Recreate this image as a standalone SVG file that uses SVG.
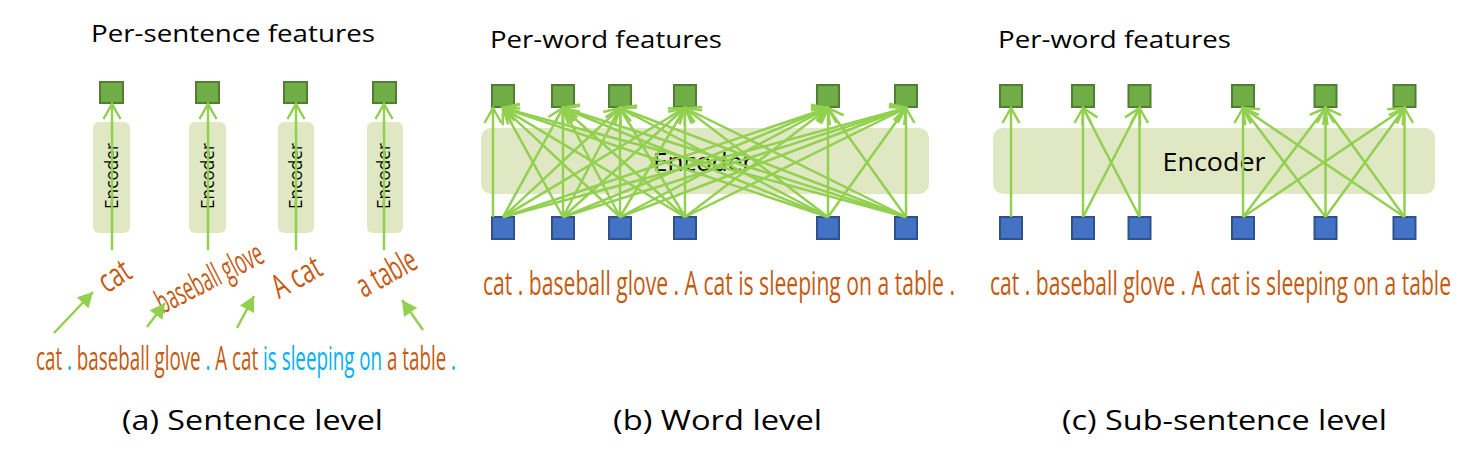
<svg xmlns="http://www.w3.org/2000/svg" width="1470" height="450" viewBox="0 0 1470 450">
<style>
.title{font-family:"Open Sans","Noto Sans",sans-serif;font-size:24px;fill:#000}
.cap{font-family:"Open Sans","Noto Sans",sans-serif;font-size:28px;fill:#000}
.enc{font-family:"Open Sans","Noto Sans",sans-serif;font-size:25px;fill:#000}
.encv{font-family:"Open Sans","Noto Sans",sans-serif;font-size:18px;fill:#000}
.word{font-family:"Liberation Sans Narrow","Open Sans","Noto Sans",sans-serif;font-size:33px;fill:#c55a11}
.sep{fill:#00b0f0}
.box{fill:#e0e7c3}
.g{fill:#70ad47;stroke:#507e32;stroke-width:2}
.b{fill:#4472c4;stroke:#2f528f;stroke-width:2}
.ln{stroke:#92d050;stroke-width:2.5;fill:none;marker-end:url(#chev)}
.la{stroke:#92d050;stroke-width:2.5;fill:none;marker-end:url(#tri)}
</style>
<defs>
<marker id="chev" markerUnits="userSpaceOnUse" markerWidth="40" markerHeight="40" viewBox="-20 -20 40 40" refX="0" refY="0" orient="auto" overflow="visible">
<path d="M-15,-8.5 L0,0 L-15,8.5" fill="none" stroke="#92d050" stroke-width="2.5"/>
</marker>
<marker id="tri" markerUnits="userSpaceOnUse" markerWidth="40" markerHeight="40" viewBox="-20 -20 40 40" refX="0" refY="0" orient="auto" overflow="visible">
<path d="M-15,-8 L0,0 L-15,8 Z" fill="#92d050"/>
</marker>
</defs>
<rect width="1470" height="450" fill="#ffffff"/>

<!-- Panel (a) -->
<g id="panel-a">
<text class="title" x="91" y="42" textLength="284" lengthAdjust="spacingAndGlyphs">Per-sentence features</text>
<g id="a-enc1"><rect class="box" x="93" y="122" width="37" height="111" rx="6"/><text class="encv" transform="translate(118,176) rotate(-90)" text-anchor="middle" textLength="66" lengthAdjust="spacingAndGlyphs">Encoder</text></g>
<g id="a-enc2"><rect class="box" x="189" y="122" width="37" height="111" rx="6"/><text class="encv" transform="translate(214,176) rotate(-90)" text-anchor="middle" textLength="66" lengthAdjust="spacingAndGlyphs">Encoder</text></g>
<g id="a-enc3"><rect class="box" x="278" y="122" width="36" height="111" rx="6"/><text class="encv" transform="translate(302,176) rotate(-90)" text-anchor="middle" textLength="66" lengthAdjust="spacingAndGlyphs">Encoder</text></g>
<g id="a-enc4"><rect class="box" x="367" y="122" width="36" height="111" rx="6"/><text class="encv" transform="translate(390,176) rotate(-90)" text-anchor="middle" textLength="66" lengthAdjust="spacingAndGlyphs">Encoder</text></g>
<g id="a-out1"><rect class="g" x="100" y="82" width="23" height="21"/></g>
<g id="a-out2"><rect class="g" x="196" y="82" width="23" height="21"/></g>
<g id="a-out3"><rect class="g" x="284" y="82" width="23" height="21"/></g>
<g id="a-out4"><rect class="g" x="373" y="82" width="23" height="21"/></g>
<g id="a-w1"><text class="word" font-size="32" transform="translate(115,277) rotate(-33)" text-anchor="middle" y="10" textLength="32" lengthAdjust="spacingAndGlyphs">cat</text></g>
<g id="a-w2"><text class="word" font-size="31" transform="translate(210,279) rotate(-27)" text-anchor="middle" y="10" textLength="116" lengthAdjust="spacingAndGlyphs">baseball glove</text></g>
<g id="a-w3"><text class="word" font-size="32" transform="translate(297,278) rotate(-29)" text-anchor="middle" y="10" textLength="52" lengthAdjust="spacingAndGlyphs">A cat</text></g>
<g id="a-w4"><text class="word" font-size="32" transform="translate(387,274) rotate(-29)" text-anchor="middle" y="10" textLength="64" lengthAdjust="spacingAndGlyphs">a table</text></g>
<g id="a-sentence"><text class="word" x="36" y="370" font-size="31" textLength="420" lengthAdjust="spacingAndGlyphs">cat <tspan class="sep">.</tspan> baseball glove <tspan class="sep">.</tspan> A cat <tspan class="sep">is sleeping on</tspan> a table <tspan class="sep">.</tspan></text></g>
<text class="cap" x="122" y="430" textLength="261" lengthAdjust="spacingAndGlyphs">(a) Sentence level</text>
</g>

<!-- Panel (b) -->
<g id="panel-b">
<text class="title" x="490" y="48" textLength="232" lengthAdjust="spacingAndGlyphs">Per-word features</text>
<g id="b-encoder"><rect class="box" x="481" y="128" width="448" height="66" rx="10"/><text class="enc" x="703" y="171" text-anchor="middle" textLength="100" lengthAdjust="spacingAndGlyphs">Encoder</text></g>
<g id="b-out1"><rect class="g" x="492" y="85" width="22" height="22"/></g>
<g id="b-out2"><rect class="g" x="552" y="85" width="22" height="22"/></g>
<g id="b-out3"><rect class="g" x="609" y="85" width="22" height="22"/></g>
<g id="b-out4"><rect class="g" x="674" y="85" width="22" height="22"/></g>
<g id="b-out5"><rect class="g" x="817" y="85" width="22" height="22"/></g>
<g id="b-out6"><rect class="g" x="895" y="85" width="22" height="22"/></g>
<g id="b-in1"><rect class="b" x="492" y="217" width="22" height="22"/></g>
<g id="b-in2"><rect class="b" x="552" y="217" width="22" height="22"/></g>
<g id="b-in3"><rect class="b" x="609" y="217" width="22" height="22"/></g>
<g id="b-in4"><rect class="b" x="674" y="217" width="22" height="22"/></g>
<g id="b-in5"><rect class="b" x="817" y="217" width="22" height="22"/></g>
<g id="b-in6"><rect class="b" x="895" y="217" width="22" height="22"/></g>
<g id="b-sentence"><text class="word" x="483" y="295" textLength="472" lengthAdjust="spacingAndGlyphs">cat . baseball glove . A cat is sleeping on a table .</text></g>
<text class="cap" x="613" y="430" textLength="209" lengthAdjust="spacingAndGlyphs">(b) Word level</text>
</g>

<!-- Panel (c) -->
<g id="panel-c">
<text class="title" x="998" y="48" textLength="233" lengthAdjust="spacingAndGlyphs">Per-word features</text>
<g id="c-encoder"><rect class="box" x="993" y="128" width="442" height="66" rx="10"/><text class="enc" x="1214" y="171" text-anchor="middle" textLength="103" lengthAdjust="spacingAndGlyphs">Encoder</text></g>
<g id="c-out1"><rect class="g" x="1000" y="85" width="22" height="22"/></g>
<g id="c-out2"><rect class="g" x="1072" y="85" width="22" height="22"/></g>
<g id="c-out3"><rect class="g" x="1128.5" y="85" width="22" height="22"/></g>
<g id="c-out4"><rect class="g" x="1232" y="85" width="22" height="22"/></g>
<g id="c-out5"><rect class="g" x="1314.5" y="85" width="22" height="22"/></g>
<g id="c-out6"><rect class="g" x="1393.5" y="85" width="22" height="22"/></g>
<g id="c-in1"><rect class="b" x="1000" y="217" width="22" height="22"/></g>
<g id="c-in2"><rect class="b" x="1072" y="217" width="22" height="22"/></g>
<g id="c-in3"><rect class="b" x="1128.5" y="217" width="22" height="22"/></g>
<g id="c-in4"><rect class="b" x="1232" y="217" width="22" height="22"/></g>
<g id="c-in5"><rect class="b" x="1314.5" y="217" width="22" height="22"/></g>
<g id="c-in6"><rect class="b" x="1393.5" y="217" width="22" height="22"/></g>
<g id="c-sentence"><text class="word" x="990" y="295" textLength="461" lengthAdjust="spacingAndGlyphs">cat . baseball glove . A cat is sleeping on a table</text></g>
<text class="cap" x="1062" y="430" textLength="325" lengthAdjust="spacingAndGlyphs">(c) Sub-sentence level</text>
</g>

<!-- Connectors -->
<g id="connectors">
<line class="ln" x1="112" y1="250" x2="112" y2="104"/>
<line class="ln" x1="208" y1="250" x2="208" y2="104"/>
<line class="ln" x1="296" y1="250" x2="296" y2="104"/>
<line class="ln" x1="384" y1="250" x2="384" y2="104"/>
<line class="la" x1="54" y1="333" x2="93" y2="292"/>
<line class="la" x1="147" y1="327" x2="165" y2="303"/>
<line class="la" x1="237" y1="328" x2="254" y2="296"/>
<line class="la" x1="423" y1="330" x2="402" y2="300"/>
<line class="ln" x1="493" y1="217" x2="493" y2="108"/>
<line class="ln" x1="503" y1="217" x2="563" y2="108"/>
<line class="ln" x1="503" y1="217" x2="620" y2="108"/>
<line class="ln" x1="503" y1="217" x2="685" y2="108"/>
<line class="ln" x1="503" y1="217" x2="828" y2="108"/>
<line class="ln" x1="503" y1="217" x2="906" y2="108"/>
<line class="ln" x1="563" y1="217" x2="503" y2="108"/>
<line class="ln" x1="563" y1="217" x2="563" y2="108"/>
<line class="ln" x1="563" y1="217" x2="620" y2="108"/>
<line class="ln" x1="563" y1="217" x2="685" y2="108"/>
<line class="ln" x1="563" y1="217" x2="828" y2="108"/>
<line class="ln" x1="563" y1="217" x2="906" y2="108"/>
<line class="ln" x1="620" y1="217" x2="503" y2="108"/>
<line class="ln" x1="620" y1="217" x2="563" y2="108"/>
<line class="ln" x1="620" y1="217" x2="620" y2="108"/>
<line class="ln" x1="620" y1="217" x2="685" y2="108"/>
<line class="ln" x1="620" y1="217" x2="828" y2="108"/>
<line class="ln" x1="620" y1="217" x2="906" y2="108"/>
<line class="ln" x1="685" y1="217" x2="503" y2="108"/>
<line class="ln" x1="685" y1="217" x2="563" y2="108"/>
<line class="ln" x1="685" y1="217" x2="620" y2="108"/>
<line class="ln" x1="685" y1="217" x2="685" y2="108"/>
<line class="ln" x1="685" y1="217" x2="828" y2="108"/>
<line class="ln" x1="685" y1="217" x2="906" y2="108"/>
<line class="ln" x1="828" y1="217" x2="503" y2="108"/>
<line class="ln" x1="828" y1="217" x2="563" y2="108"/>
<line class="ln" x1="828" y1="217" x2="620" y2="108"/>
<line class="ln" x1="828" y1="217" x2="685" y2="108"/>
<line class="ln" x1="828" y1="217" x2="828" y2="108"/>
<line class="ln" x1="828" y1="217" x2="906" y2="108"/>
<line class="ln" x1="906" y1="217" x2="503" y2="108"/>
<line class="ln" x1="906" y1="217" x2="563" y2="108"/>
<line class="ln" x1="906" y1="217" x2="620" y2="108"/>
<line class="ln" x1="906" y1="217" x2="685" y2="108"/>
<line class="ln" x1="906" y1="217" x2="828" y2="108"/>
<line class="ln" x1="906" y1="217" x2="906" y2="108"/>
<line class="ln" x1="1011" y1="217" x2="1011" y2="108"/>
<line class="ln" x1="1083" y1="217" x2="1083" y2="108"/>
<line class="ln" x1="1083" y1="217" x2="1139.5" y2="108"/>
<line class="ln" x1="1139.5" y1="217" x2="1083" y2="108"/>
<line class="ln" x1="1139.5" y1="217" x2="1139.5" y2="108"/>
<line class="ln" x1="1243" y1="217" x2="1243" y2="108"/>
<line class="ln" x1="1243" y1="217" x2="1325.5" y2="108"/>
<line class="ln" x1="1243" y1="217" x2="1404.5" y2="108"/>
<line class="ln" x1="1325.5" y1="217" x2="1243" y2="108"/>
<line class="ln" x1="1325.5" y1="217" x2="1325.5" y2="108"/>
<line class="ln" x1="1325.5" y1="217" x2="1404.5" y2="108"/>
<line class="ln" x1="1404.5" y1="217" x2="1243" y2="108"/>
<line class="ln" x1="1404.5" y1="217" x2="1325.5" y2="108"/>
<line class="ln" x1="1404.5" y1="217" x2="1404.5" y2="108"/>
</g>
</svg>
